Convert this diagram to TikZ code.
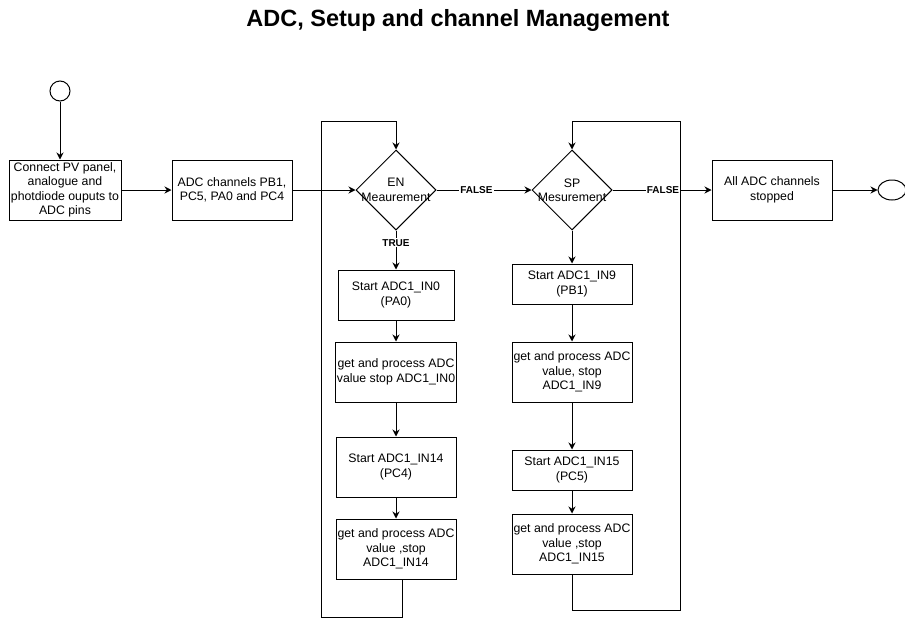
\documentclass[tikz,border=0pt]{standalone}
\usepackage{fontspec}
\setmainfont{Liberation Sans}
\usetikzlibrary{positioning}
\usetikzlibrary{shapes.geometric}
\usetikzlibrary{arrows.meta}

\begin{document}
\begin{tikzpicture}
[
x=1pt, y=-1pt, line width=1pt,
>={Stealth[length=7pt,width=7pt]},
proc/.style={rectangle, draw, align=center, inner sep=1pt, font=\fontsize{12.3}{14.4}\selectfont},
dec/.style={diamond, draw, minimum width=80pt, minimum height=80pt, inner sep=0pt},
dectext/.style={align=center, inner sep=0pt, font=\fontsize{12.3}{14.4}\selectfont},
term/.style={ellipse, draw, inner sep=0pt},
lbl/.style={fill=white, inner sep=1pt, font=\fontsize{10}{12}\selectfont\bfseries},
]
\useasboundingbox [fill=white] (0,0) rectangle (905,627);
\node (title) [font=\fontsize{23.5}{28}\selectfont\bfseries] at (458,20) {ADC, Setup and channel Management};
\node (start) [term, minimum width=20pt, minimum height=20pt] at (60,91) {};
\node (conn) [proc, minimum width=112pt, minimum height=60pt] at (65,190) {Connect PV panel,\\analogue and\\photdiode ouputs to\\ADC pins};
\node (chan) [proc, minimum width=120pt, minimum height=60pt, right=50pt of conn] {ADC channels PB1,\\PC5, PA0 and PC4};
\node (en) [dec, label={[dectext]center:{EN\\Meaurement}}] at (396,190) {};
\node (sp) [dec, label={[dectext]center:{SP\\Mesurement}}] at (572,190) {};
\node (stop) [proc, minimum width=120pt, minimum height=60pt] at (772,190) {All ADC channels\\stopped};
\node (end) [term, minimum width=28pt, minimum height=20pt, right=45pt of stop] {};
% EN branch
\node (en1) [proc, minimum width=116pt, minimum height=50pt] at (396,295) {Start ADC1\_IN0\\(PA0)};
\node (en2) [proc, minimum width=117pt, minimum height=60pt] at (396,372) {get and process ADC\\value stop ADC1\_IN0};
\node (en3) [proc, minimum width=120pt, minimum height=60pt] at (396,467) {Start ADC1\_IN14\\(PC4)};
\node (en4) [proc, minimum width=120pt, minimum height=60pt] at (396,549) {get and process ADC\\value ,stop\\ADC1\_IN14};
% SP branch
\node (sp1) [proc, minimum width=120pt, minimum height=40pt] at (572,284) {Start ADC1\_IN9\\(PB1)};
\node (sp2) [proc, minimum width=120pt, minimum height=60pt] at (572,372) {get and process ADC\\value, stop\\ADC1\_IN9};
\node (sp3) [proc, minimum width=120pt, minimum height=40pt] at (572,470) {Start ADC1\_IN15\\(PC5)};
\node (sp4) [proc, minimum width=120pt, minimum height=60pt] at (572,544) {get and process ADC\\value ,stop\\ADC1\_IN15};
\coordinate (l1a) at (321,617);
\coordinate (l1b) at (321,121);
\coordinate (l2a) at (680,610);
\coordinate (l2b) at (680,121);
\path [->] (start) edge (start |- conn.north);
\path [->] (conn) edge (chan);
\path [->] (chan) edge (en);
\path [->] (en) edge node [lbl, pos=0.32] {TRUE} (en1);
\path [->] (en1) edge (en2);
\path [->] (en2) edge (en3);
\path [->] (en3) edge (en4);
\path [->] (en) edge node [lbl, pos=0.42] {FALSE} (sp);
\path [->] (sp) edge (sp1);
\path [->] (sp1) edge (sp2);
\path [->] (sp2) edge (sp3);
\path [->] (sp3) edge (sp4);
\path [->] (sp) edge node [lbl, pos=0.51] {FALSE} (stop);
\path [->] (stop) edge (end);
% loops back to the decisions
\draw [->] ([xshift=6pt]en4.south) |- (l1a) -- (l1b) -| (en.north);
\draw [->] (sp4.south) |- (l2a) -- (l2b) -| (sp.north);
\end{tikzpicture}
\end{document}
